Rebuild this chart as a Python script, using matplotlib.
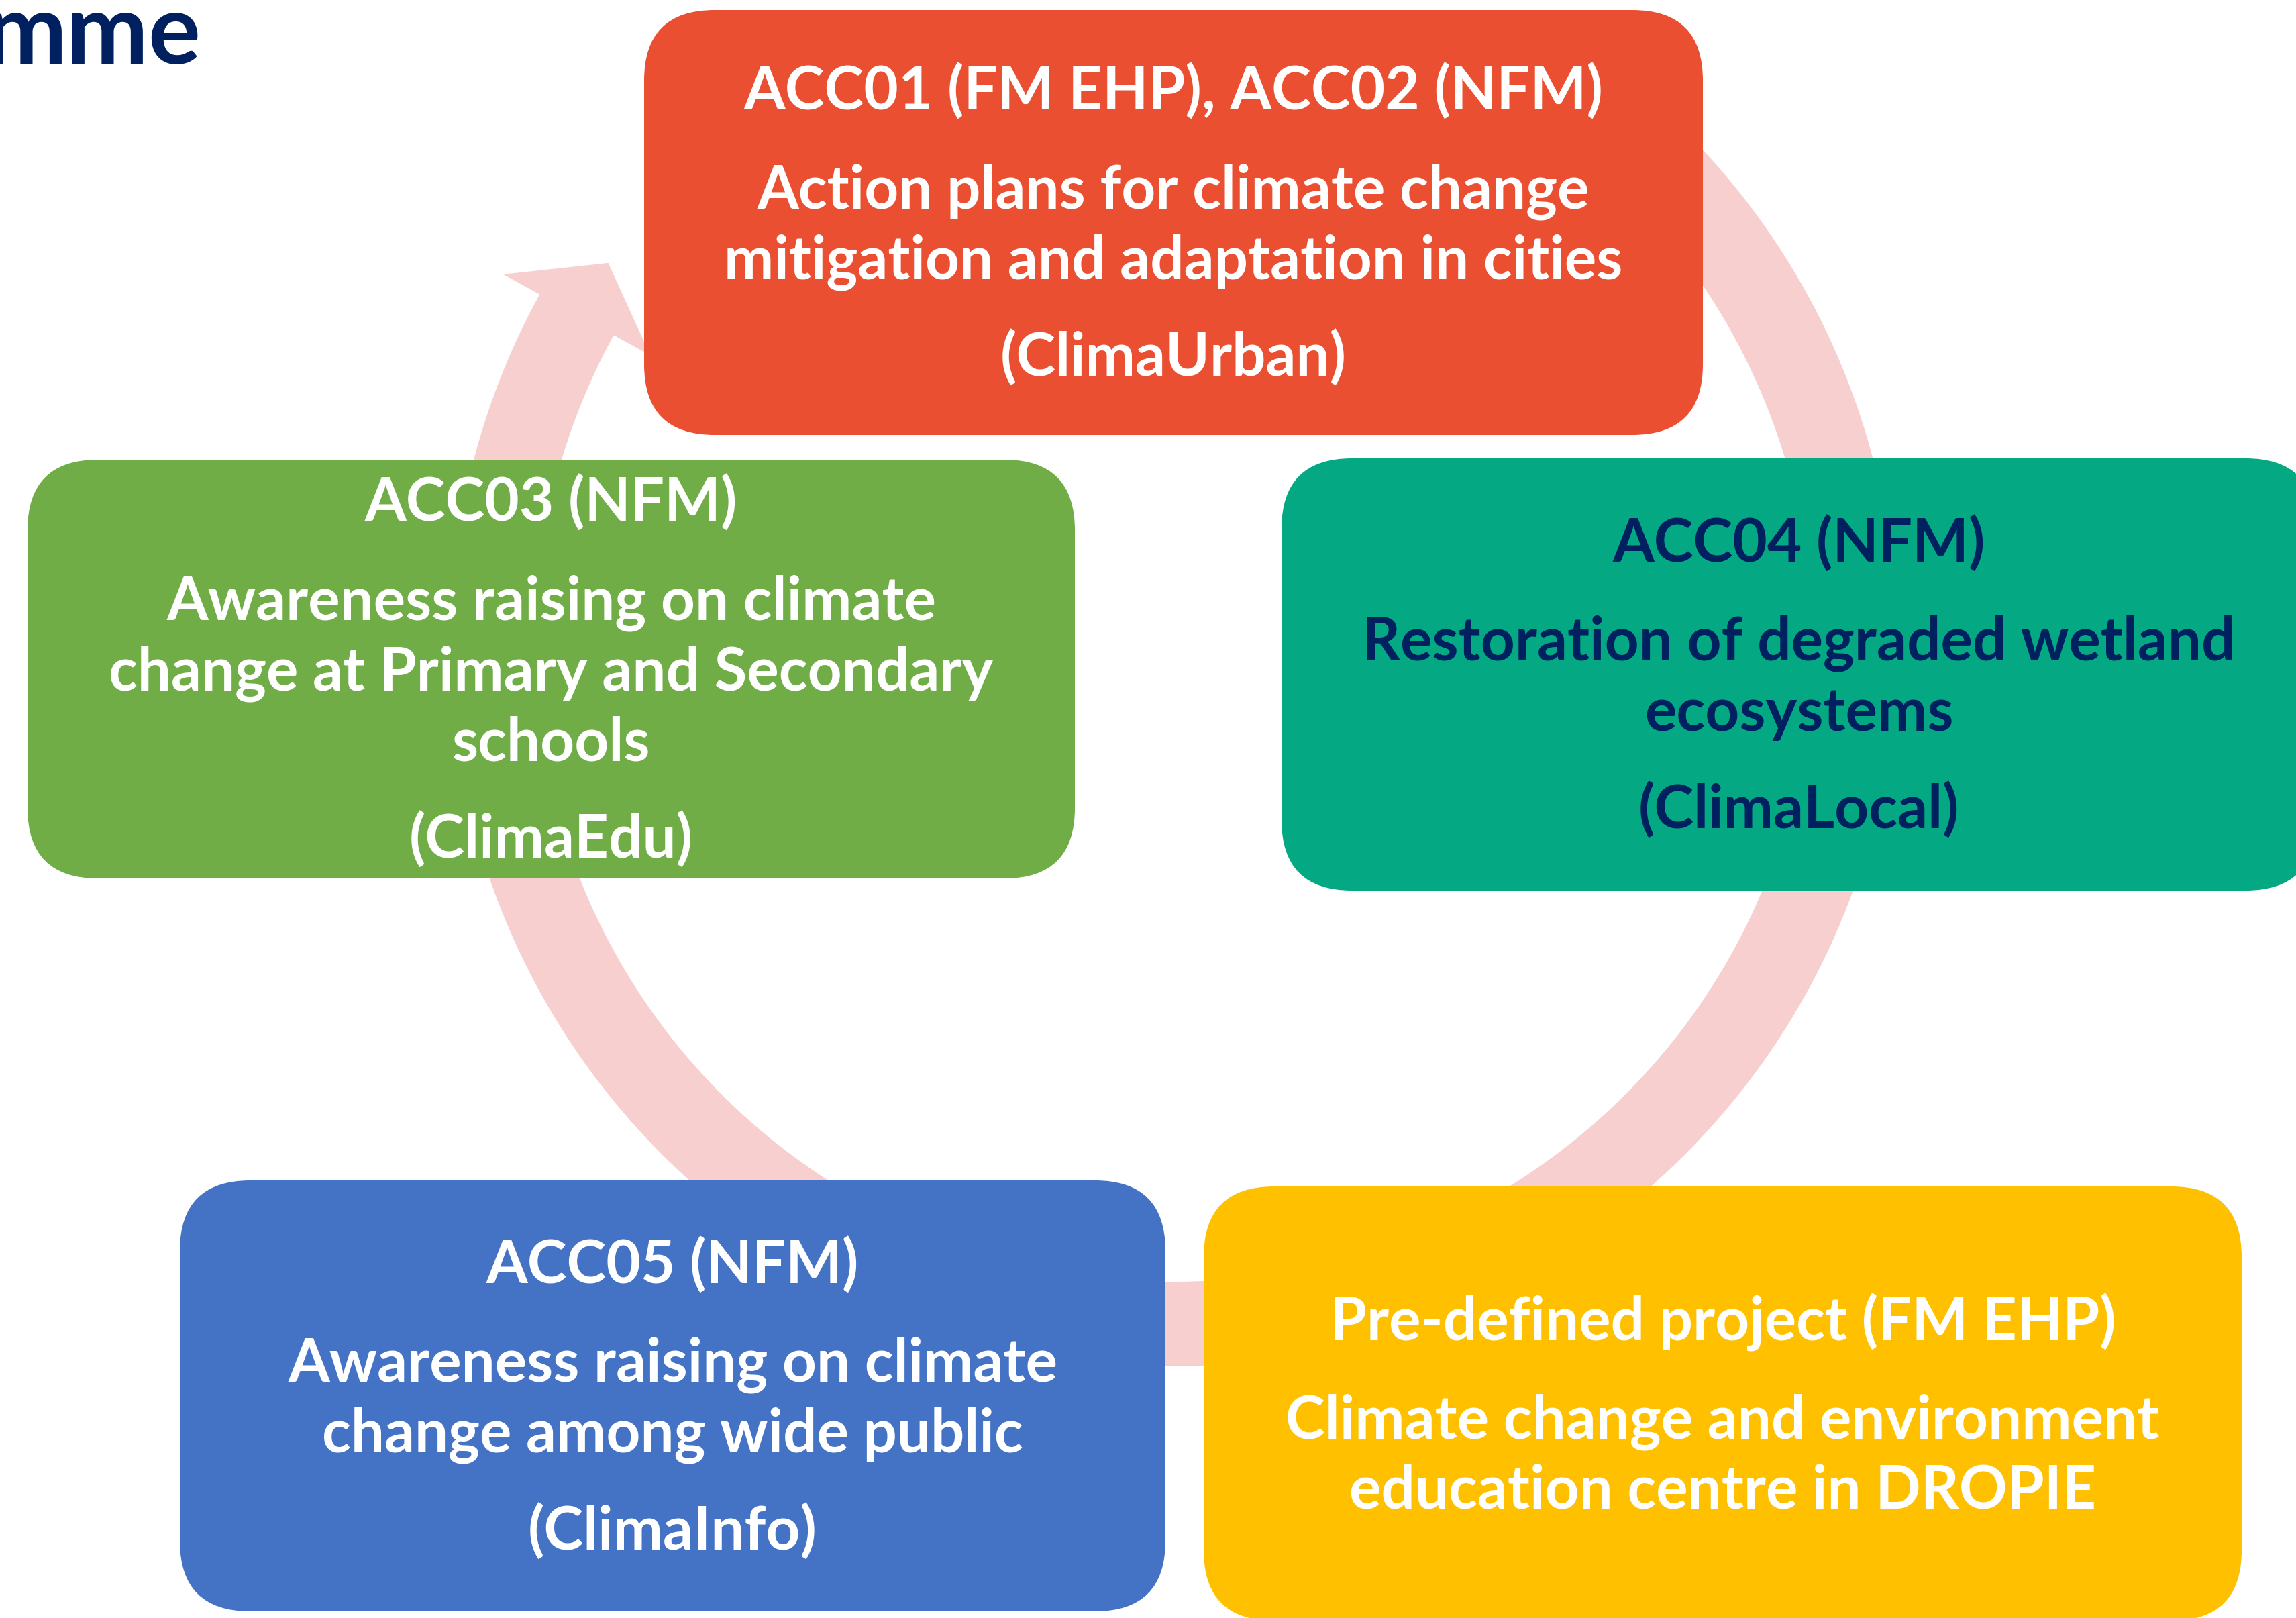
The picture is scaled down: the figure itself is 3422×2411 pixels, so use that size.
import numpy as np
import matplotlib.pyplot as plt
from matplotlib.patches import FancyBboxPatch, Polygon

plt.rcParams['font.family'] = ['Lato', 'DejaVu Sans']

W, H = 3422, 2411

# the five project boxes (red, green, teal, blue, yellow)
box_codes = ["ACC01 (FM EHP), ACC02 (NFM)", "ACC03 (NFM)", "ACC04 (NFM)",
             "ACC05 (NFM)", "Pre-defined project (FM EHP)"]
box_titles = [
    "Action plans for climate change\nmitigation and adaptation in cities",
    "Awareness raising on climate\nchange at Primary and Secondary\nschools",
    "Restoration of degraded wetland\necosystems",
    "Awareness raising on climate\nchange among wide public",
    "Climate change and environment\neducation centre in DROPIE",
]
box_tags = ["(ClimaUrban)", "(ClimaEdu)", "(ClimaLocal)", "(ClimaInfo)", ""]
box_colors = ["#E94F30", "#70AD47", "#04A984", "#4472C4", "#FFC000"]
text_colors = ["white", "white", "#002060", "white", "white"]

# box extents in pixels: left, top, right, bottom
box_extent = [
    (960, 15, 2538, 648),
    (41, 685, 1602, 1309),
    (1910, 683, 3452, 1327),
    (268, 1759, 1737, 2401),
    (1794, 1768, 3341, 2415),
]

fig = plt.figure(figsize=(W / 100, H / 100), dpi=100)
ax = fig.add_axes([0, 0, 1, 1])
ax.set_xlim(0, W)
ax.set_ylim(H, 0)
ax.axis("off")

# cycle ring with one arrow head at top left
cx, cy = 1749, 958
r_out, r_in = 1078, 952
t = np.radians(np.linspace(300, 360 + 208.8, 500))
outer = np.column_stack([cx + r_out * np.cos(t), cy + r_out * np.sin(t)])
inner = np.column_stack([cx + r_in * np.cos(t[::-1]), cy + r_in * np.sin(t[::-1])])
tb = t[-1]
tt = np.radians(213.9)
rm = (r_out + r_in) / 2
head = np.array([
    [cx + (r_out + 62) * np.cos(tb), cy + (r_out + 62) * np.sin(tb)],
    [cx + rm * np.cos(tt), cy + rm * np.sin(tt)],
    [cx + (r_in - 62) * np.cos(tb), cy + (r_in - 62) * np.sin(tb)],
])
ring = np.vstack([outer, head, inner])
ax.add_patch(Polygon(ring, closed=True, facecolor="#F6CFCE", edgecolor="none", zorder=1))

line_gap = 105
para_gap = 146
cap_half = 31

for i in range(len(box_codes)):
    x0, y0, x1, y1 = box_extent[i]
    ax.add_patch(FancyBboxPatch((x0, y0), x1 - x0, y1 - y0,
                                boxstyle="round,pad=0,rounding_size=105",
                                facecolor=box_colors[i], edgecolor="none", zorder=2))
    paras = [p.split("\n") for p in (box_codes[i], box_titles[i], box_tags[i]) if p]
    ys = []
    y = 0
    for k, p in enumerate(paras):
        if k > 0:
            y += para_gap
        for j, line in enumerate(p):
            if j > 0:
                y += line_gap
            ys.append((y, line))
    offset = (y0 + y1) / 2 - y / 2
    xc = (x0 + x1) / 2
    for yy, line in ys:
        ax.text(xc, yy + offset + cap_half, line, ha="center", va="baseline",
                fontsize=64, fontweight="bold", color=text_colors[i], zorder=3)

# tail of the slide title, cut by the left edge
ax.text(299, 95, "mme", ha="right", va="baseline", fontsize=105,
        fontweight="bold", color="#002060", zorder=3)

fig.savefig("out.png", dpi=100)
